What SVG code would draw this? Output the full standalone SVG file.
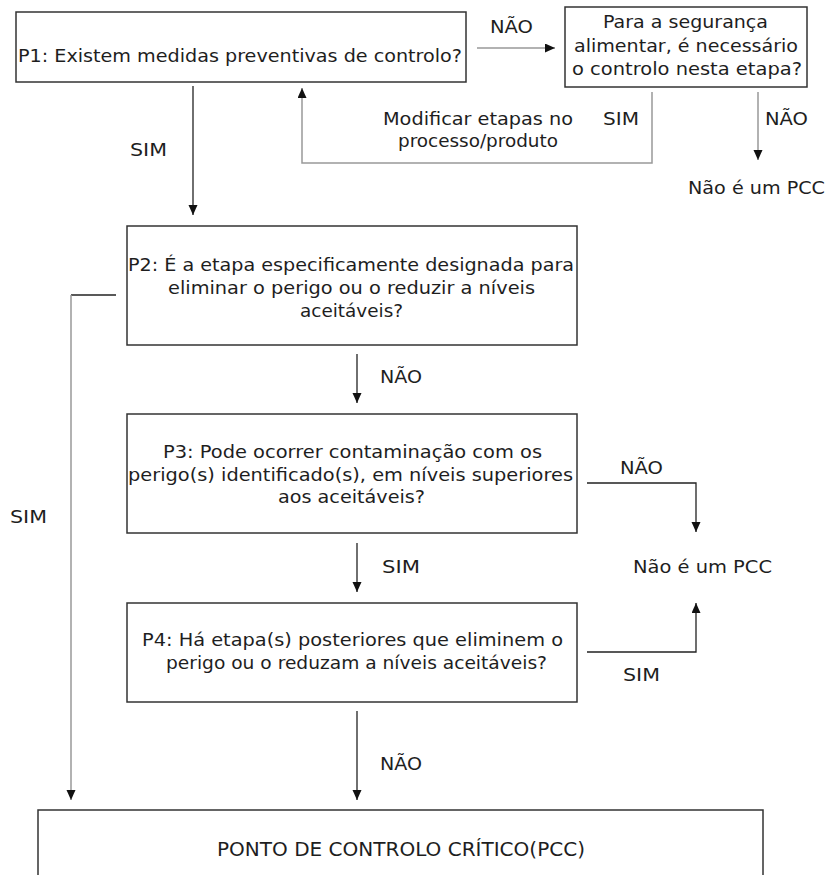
<svg xmlns="http://www.w3.org/2000/svg" width="827" height="875" viewBox="0 0 827 875">
  <style>
    .box { fill: #ffffff; stroke: #333333; stroke-width: 1.5; }
    .t { font-family: "DejaVu Sans", Verdana, sans-serif; font-size: 17px; fill: #1e1e1e; }
    .caps { font-family: "DejaVu Sans", Verdana, sans-serif; font-size: 20px; fill: #1e1e1e; }
    .dark { fill: none; stroke: #222222; stroke-width: 1.3; }
    .grey { fill: none; stroke: #999999; stroke-width: 1.5; }
  </style>
  <defs>
    <marker id="head" markerUnits="userSpaceOnUse" markerWidth="10" markerHeight="10" refX="10" refY="4.5" orient="auto">
      <path d="M0,0 L10,4.5 L0,9 z" fill="#111111"/>
    </marker>
  </defs>

  <rect width="827" height="875" fill="#ffffff"/>

  <!-- connectors -->
  <g id="connectors">
    <line class="grey" x1="477" y1="48" x2="555" y2="48" marker-end="url(#head)"/>
    <line class="dark" x1="193" y1="86" x2="193" y2="215" marker-end="url(#head)"/>
    <polyline class="grey" points="652,92 652,163 302,163 302,88" marker-end="url(#head)"/>
    <line class="grey" x1="758" y1="92" x2="758" y2="160" marker-end="url(#head)"/>
    <line class="dark" x1="116" y1="295" x2="71" y2="295"/>
    <line class="grey" x1="71" y1="295" x2="71" y2="800" marker-end="url(#head)"/>
    <line class="dark" x1="357" y1="354" x2="357" y2="403" marker-end="url(#head)"/>
    <polyline class="dark" points="587,483 696,483 696,532" marker-end="url(#head)"/>
    <line class="dark" x1="357" y1="543" x2="357" y2="592" marker-end="url(#head)"/>
    <polyline class="dark" points="587,652 696,652 696,603" marker-end="url(#head)"/>
    <line class="dark" x1="357" y1="711" x2="357" y2="800" marker-end="url(#head)"/>

    <text class="t" x="490" y="33" textLength="43" lengthAdjust="spacingAndGlyphs">NÃO</text>
    <text class="t" x="130" y="156" textLength="37" lengthAdjust="spacingAndGlyphs">SIM</text>
    <text class="t" x="383" y="125" textLength="190" lengthAdjust="spacingAndGlyphs">Modificar etapas no</text>
    <text class="t" x="398" y="147" textLength="160" lengthAdjust="spacingAndGlyphs">processo/produto</text>
    <text class="t" x="603" y="125" textLength="36" lengthAdjust="spacingAndGlyphs">SIM</text>
    <text class="t" x="765" y="125" textLength="43" lengthAdjust="spacingAndGlyphs">NÃO</text>
    <text class="t" x="10" y="523" textLength="37" lengthAdjust="spacingAndGlyphs">SIM</text>
    <text class="t" x="380" y="383" textLength="42" lengthAdjust="spacingAndGlyphs">NÃO</text>
    <text class="t" x="620" y="474" textLength="43" lengthAdjust="spacingAndGlyphs">NÃO</text>
    <text class="t" x="382" y="573" textLength="38" lengthAdjust="spacingAndGlyphs">SIM</text>
    <text class="t" x="623" y="681" textLength="37" lengthAdjust="spacingAndGlyphs">SIM</text>
    <text class="t" x="380" y="770" textLength="42" lengthAdjust="spacingAndGlyphs">NÃO</text>
  </g>

  <!-- question P1 -->
  <g id="p1">
    <rect class="box" x="16" y="12" width="450" height="70"/>
    <text class="t" x="18" y="62" textLength="444" lengthAdjust="spacingAndGlyphs">P1: Existem medidas preventivas de controlo?</text>
  </g>

  <!-- food safety control question -->
  <g id="seguranca">
    <rect class="box" x="565" y="7" width="242" height="80"/>
    <text class="t" x="603" y="28" textLength="165" lengthAdjust="spacingAndGlyphs">Para a segurança</text>
    <text class="t" x="574" y="52" textLength="224" lengthAdjust="spacingAndGlyphs">alimentar, é necessário</text>
    <text class="t" x="572" y="75" textLength="230" lengthAdjust="spacingAndGlyphs">o controlo nesta etapa?</text>
  </g>

  <!-- not a CCP outcomes -->
  <g id="nao-pcc-1">
    <text class="t" x="688" y="194" textLength="137" lengthAdjust="spacingAndGlyphs">Não é um PCC</text>
  </g>
  <g id="nao-pcc-2">
    <text class="t" x="633" y="573" textLength="139" lengthAdjust="spacingAndGlyphs">Não é um PCC</text>
  </g>

  <!-- question P2 -->
  <g id="p2">
    <rect class="box" x="127" y="226" width="450" height="119"/>
    <text class="t" x="128" y="271" textLength="446" lengthAdjust="spacingAndGlyphs">P2: É a etapa especificamente designada para</text>
    <text class="t" x="168" y="294" textLength="367" lengthAdjust="spacingAndGlyphs">eliminar o perigo ou o reduzir a níveis</text>
    <text class="t" x="300" y="317" textLength="103" lengthAdjust="spacingAndGlyphs">aceitáveis?</text>
  </g>

  <!-- question P3 -->
  <g id="p3">
    <rect class="box" x="127" y="414" width="450" height="119"/>
    <text class="t" x="163" y="458" textLength="379" lengthAdjust="spacingAndGlyphs">P3: Pode ocorrer contaminação com os</text>
    <text class="t" x="128" y="481" textLength="445" lengthAdjust="spacingAndGlyphs">perigo(s) identificado(s), em níveis superiores</text>
    <text class="t" x="278" y="503" textLength="147" lengthAdjust="spacingAndGlyphs">aos aceitáveis?</text>
  </g>

  <!-- question P4 -->
  <g id="p4">
    <rect class="box" x="127" y="603" width="450" height="99"/>
    <text class="t" x="142" y="646" textLength="421" lengthAdjust="spacingAndGlyphs">P4: Há etapa(s) posteriores que eliminem o</text>
    <text class="t" x="166" y="669" textLength="381" lengthAdjust="spacingAndGlyphs">perigo ou o reduzam a níveis aceitáveis?</text>
  </g>

  <!-- critical control point -->
  <g id="pcc">
    <rect class="box" x="38" y="810" width="725" height="80"/>
    <text class="caps" x="217" y="856" textLength="368" lengthAdjust="spacingAndGlyphs">PONTO DE CONTROLO CRÍTICO(PCC)</text>
  </g>
</svg>
